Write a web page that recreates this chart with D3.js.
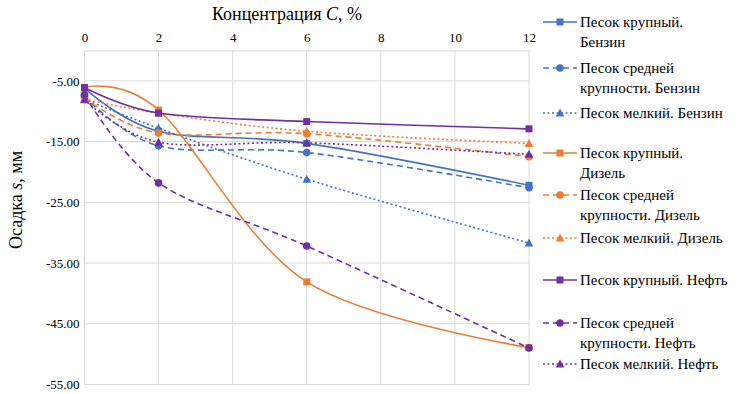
<html>
<head>
  <style>
    body {
      margin: 0px;
      padding: 0px;
      background-color: white;
    }
  </style>
</head>
<body>
  <div id="chart"></div>
  <script src="https://cdnjs.cloudflare.com/ajax/libs/d3/7.8.5/d3.min.js"></script>
  <script>
    // concentration C, %
    var concentration = [0, 2, 6, 12];
    var xTicks = [0, 2, 4, 6, 8, 10, 12];
    var yTicks = [-5, -15, -25, -35, -45, -55];

    // settlement s, mm
    var coarseBenzin = [-6.2, -13.3, -15.3, -22.2];
    var mediumBenzin = [-7.5, -15.7, -16.8, -22.6];
    var fineBenzin = [-8.0, -12.8, -21.2, -31.7];
    var coarseDiesel = [-6.1, -9.8, -38.1, -48.9];
    var mediumDiesel = [-7.8, -13.6, -13.7, -17.5];
    var fineDiesel = [-8.0, -10.3, -13.3, -15.3];
    var coarseOil = [-6.1, -10.3, -11.7, -12.9];
    var mediumOil = [-7.3, -21.8, -32.2, -49.0];
    var fineOil = [-8.1, -15.1, -15.2, -17.1];

    var seriesLabels = [
      ["Песок крупный.", "Бензин"],
      ["Песок средней", "крупности. Бензин"],
      ["Песок мелкий. Бензин"],
      ["Песок крупный.", "Дизель"],
      ["Песок средней", "крупности. Дизель"],
      ["Песок мелкий. Дизель"],
      ["Песок крупный. Нефть"],
      ["Песок средней", "крупности. Нефть"],
      ["Песок мелкий. Нефть"]
    ];

    var width = 745, height = 394;
    var fontList = "Liberation Serif, Tinos, Times New Roman, DejaVu Serif, serif";
    var blue = "#4472c4", orange = "#ed7d31", purple = "#7030a0";

    var series = [
      { values: coarseBenzin, color: blue, dash: null, marker: "square" },
      { values: mediumBenzin, color: blue, dash: "6,4", marker: "circle" },
      { values: fineBenzin, color: blue, dash: "2,2.5", marker: "triangle" },
      { values: coarseDiesel, color: orange, dash: null, marker: "square" },
      { values: mediumDiesel, color: orange, dash: "6,4", marker: "circle" },
      { values: fineDiesel, color: orange, dash: "2,2.5", marker: "triangle" },
      { values: coarseOil, color: purple, dash: null, marker: "square" },
      { values: mediumOil, color: purple, dash: "6,4", marker: "circle" },
      { values: fineOil, color: purple, dash: "2,2.5", marker: "triangle" }
    ];
    series.forEach(function(s, i) { s.label = seriesLabels[i]; });

    // legend entry positions (first text line)
    var legendY = [22, 68, 113, 153, 195, 238, 280, 323, 364];

    var x = d3.scaleLinear().domain([0, 12]).range([84.5, 529]);
    var y = d3.scaleLinear().domain([0, -55]).range([50.5, 384.5]);

    var svg = d3.select("#chart").append("svg")
      .attr("xmlns", "http://www.w3.org/2000/svg")
      .attr("width", width)
      .attr("height", height)
      .attr("font-family", fontList);

    // grid
    svg.append("g").selectAll("line")
      .data(yTicks)
      .enter()
      .append("line")
      .attr("x1", x(0)).attr("x2", x(12))
      .attr("y1", function(d) { return y(d); })
      .attr("y2", function(d) { return y(d); })
      .attr("stroke", "#d9d9d9")
      .attr("stroke-width", 1);

    svg.append("g").selectAll("line")
      .data(xTicks)
      .enter()
      .append("line")
      .attr("x1", function(d) { return x(d); })
      .attr("x2", function(d) { return x(d); })
      .attr("y1", y(0)).attr("y2", y(-55))
      .attr("stroke", "#d9d9d9")
      .attr("stroke-width", 1);

    // top axis
    var xAxis = svg.append("g")
      .attr("transform", "translate(0," + y(0) + ")")
      .call(d3.axisTop(x).tickValues(xTicks).tickSize(0).tickPadding(9).tickFormat(d3.format("d")));
    xAxis.select(".domain").attr("stroke", "#d9d9d9");

    var yAxis = svg.append("g")
      .attr("transform", "translate(" + x(0) + ",0)")
      .call(d3.axisLeft(y).tickValues(yTicks).tickSize(0).tickPadding(5)
        .tickFormat(function(d) { return d.toFixed(2); }));
    yAxis.select(".domain").remove();

    xAxis.attr("font-family", fontList).attr("font-size", 13);
    yAxis.attr("font-family", fontList).attr("font-size", 13);

    // axis titles
    var xTitle = svg.append("text")
      .attr("x", 287)
      .attr("y", 20)
      .attr("text-anchor", "middle")
      .attr("font-size", 18);
    xTitle.append("tspan").text("Концентрация ");
    xTitle.append("tspan").attr("font-style", "italic").text("C");
    xTitle.append("tspan").text(", %");

    var yTitle = svg.append("text")
      .attr("transform", "translate(22,200) rotate(-90)")
      .attr("text-anchor", "middle")
      .attr("font-size", 18);
    yTitle.append("tspan").text("Осадка ");
    yTitle.append("tspan").attr("font-style", "italic").text("s");
    yTitle.append("tspan").text(", мм");

    var line = d3.line()
      .x(function(d) { return x(d[0]); })
      .y(function(d) { return y(d[1]); })
      .curve(d3.curveCardinal.tension(0));

    function drawMarker(g, type, color) {
      if (type === "square") {
        g.append("rect").attr("x", -3.5).attr("y", -3.5).attr("width", 7).attr("height", 7).attr("fill", color);
      } else if (type === "circle") {
        g.append("circle").attr("r", 3.8).attr("fill", color);
      } else {
        g.append("path").attr("d", "M0,-4.5L4.3,3.5L-4.3,3.5Z").attr("fill", color);
      }
    }

    series.forEach(function(s) {
      var pts = concentration.map(function(c, i) { return [c, s.values[i]]; });
      svg.append("path")
        .datum(pts)
        .attr("d", line)
        .attr("fill", "none")
        .attr("stroke", s.color)
        .attr("stroke-width", 1.6)
        .attr("stroke-dasharray", s.dash);
      pts.forEach(function(p) {
        var g = svg.append("g").attr("transform", "translate(" + x(p[0]) + "," + y(p[1]) + ")");
        drawMarker(g, s.marker, s.color);
      });
    });

    // legend
    series.forEach(function(s, i) {
      var ly = legendY[i];
      svg.append("line")
        .attr("x1", 543).attr("x2", 577)
        .attr("y1", ly).attr("y2", ly)
        .attr("stroke", s.color)
        .attr("stroke-width", 1.6)
        .attr("stroke-dasharray", s.dash);
      var g = svg.append("g").attr("transform", "translate(560," + ly + ")");
      drawMarker(g, s.marker, s.color);
      var t = svg.append("text")
        .attr("x", 580)
        .attr("y", ly + 5)
        .attr("font-size", 15);
      s.label.forEach(function(txt, j) {
        t.append("tspan").attr("x", 580).attr("dy", j === 0 ? 0 : 19.5).text(txt);
      });
    });

    svg.selectAll("text")
      .attr("font-family", fontList)
      .attr("fill", "#000");
  </script>
</body>
</html>
